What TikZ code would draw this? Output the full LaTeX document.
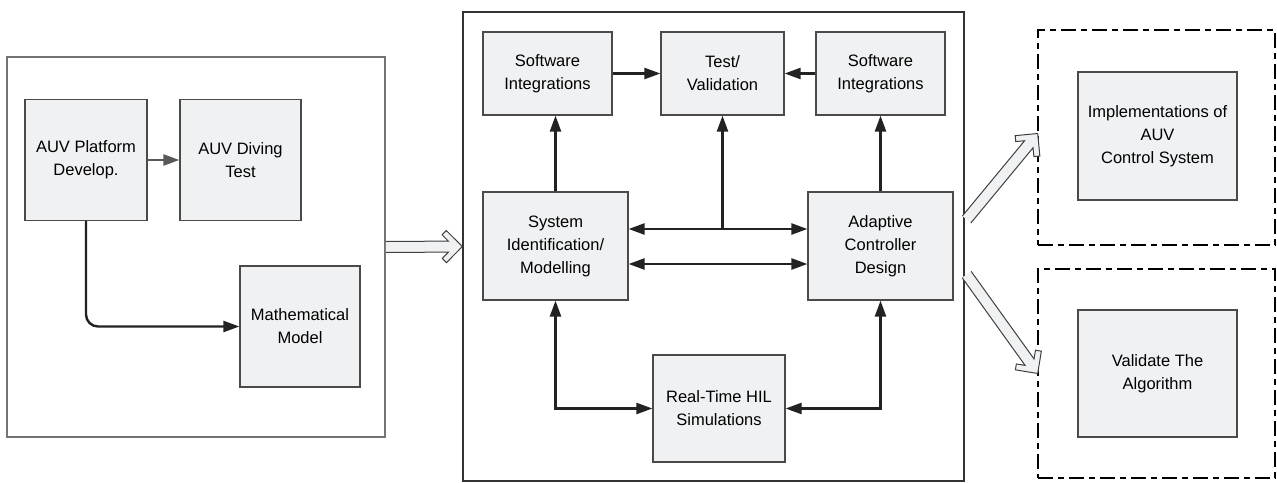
\documentclass[tikz,border=0pt]{standalone}
\usepackage{fontspec}
\setmainfont{Liberation Sans}
\usetikzlibrary{arrows.meta,calc}

\definecolor{boxfill}{HTML}{F0F1F3}
\definecolor{boxline}{HTML}{4A4A4A}
\definecolor{arrline}{HTML}{222222}

% wide outlined arrow with a chevron head between two named points
\newcommand{\hollowarrow}[2]{%
  \coordinate (q1) at ($(#2)!14pt!(#1)$);
  \coordinate (q2) at ($(#2)!20.2pt!(#1)$);
  \coordinate (q3) at ($(#2)!16pt!(#1)$);
  \draw[hollow] ($(#1)!5.5pt!90:(#2)$) -- ($(q1)!5.5pt!90:(#2)$) -- ($(q2)!11.8pt!90:(#2)$)
    -- ($(q3)!16pt!90:(#2)$) -- (#2) -- ($(q3)!16pt!-90:(#2)$) -- ($(q2)!11.8pt!-90:(#2)$)
    -- ($(q1)!5.5pt!-90:(#2)$) -- ($(#1)!5.5pt!-90:(#2)$);
}

\begin{document}
\begin{tikzpicture}[x=1pt,y=-1pt,
  every node/.style={inner sep=0pt},
  blk/.style={draw=boxline, fill=boxfill, line width=1.2pt, align=center,
    font=\fontsize{16.5}{23}\selectfont},
  panelA/.style={draw=black!55, line width=1.6pt},
  panelB/.style={draw=black!80, line width=1.2pt},
  dpanel/.style={draw=black, line width=2.6pt, dash pattern=on 15pt off 5pt on 6pt off 5pt},
  arr/.style={draw=arrline, line width=2.4pt, -{Triangle[length=16pt,width=11pt]}},
  dbl/.style={draw=arrline, line width=2.4pt, {Triangle[length=16pt,width=11pt]}-{Triangle[length=16pt,width=11pt]}},
  hollow/.style={draw=black!75, line width=1pt, fill=boxfill, line join=miter},
]
\useasboundingbox (0,0) rectangle (1277,482);

% ---------- left panel ----------
\node[panelA, minimum width=378pt, minimum height=380pt] (lp) at (196,247) {};
\node[blk, minimum width=122pt, minimum height=121pt] (plat) at (86,160) {AUV Platform\\Develop.};
\node[blk, minimum width=121pt, minimum height=121pt] (dive) at (240.5,160) {AUV Diving\\Test};
\node[blk, minimum width=120pt, minimum height=121pt] (math) at (300,326.5) {Mathematical\\Model};

\draw[arr, draw=black!65] (plat.east) -- (dive.west);
\draw[arr, rounded corners=12pt] (plat.south) |- (math.west);

% ---------- middle panel ----------
\node[panelB, minimum width=501pt, minimum height=469pt] (mp) at (713.5,246.5) {};
\node[blk, minimum width=129pt, minimum height=83pt] (sil) at (547.5,73.5) {Software\\Integrations};
\node[blk, minimum width=123pt, minimum height=83pt] (tv) at (722.5,73.5) {Test/\\Validation};
\node[blk, minimum width=129pt, minimum height=83pt] (sir) at (880.5,73.5) {Software\\Integrations};
\node[blk, minimum width=145pt, minimum height=108pt] (sys) at (555.5,246) {System\\Identification/\\Modelling};
\node[blk, minimum width=145pt, minimum height=108pt] (acd) at (880.5,246) {Adaptive\\Controller\\Design};
\node[blk, minimum width=132pt, minimum height=107pt] (hil) at (719,408.5) {Real-Time HIL\\Simulations};

\draw[arr] (sil.east) -- (tv.west);
\draw[arr] (sir.west) -- (tv.east);
\draw[arr] (sys.north) -- (sys.north |- sil.south);
\draw[arr] (acd.north) -- (acd.north |- sir.south);

\coordinate (upper) at ([yshift=17pt]sys.east);
\draw[dbl] ([yshift=17pt]sys.east) -- ([yshift=17pt]acd.west);
\draw[dbl] ([yshift=-18pt]sys.east) -- ([yshift=-18pt]acd.west);
\draw[arr] (tv.south |- upper) -- (tv.south);

\draw[dbl] (sys.south) |- (hil.west);
\draw[dbl] (acd.south) |- (hil.east);

% ---------- right panels ----------
\node[dpanel, minimum width=237pt, minimum height=215pt] (rt) at (1156.5,137.5) {};
\node[dpanel, minimum width=237pt, minimum height=209pt] (rb) at (1156.5,373.5) {};
\node[blk, minimum width=159pt, minimum height=128pt] (impl) at (1157.5,136) {Implementations of\\AUV\\Control System};
\node[blk, minimum width=159pt, minimum height=127pt] (valg) at (1157.5,373.5) {Validate The\\Algorithm};

% ---------- wide transfer arrows ----------
\coordinate (la) at (lp.east);
\coordinate (ma) at (mp.west);
\hollowarrow{la}{ma}

\coordinate (ta0) at ($(mp.east)+(2,-27)$);
\coordinate (ta1) at ($(rt.west)+(1,-4)$);
\hollowarrow{ta0}{ta1}

\coordinate (ba0) at ($(mp.east)+(2,28)$);
\coordinate (ba1) at ($(rb.west)+(1,0)$);
\hollowarrow{ba0}{ba1}
\end{tikzpicture}
\end{document}
